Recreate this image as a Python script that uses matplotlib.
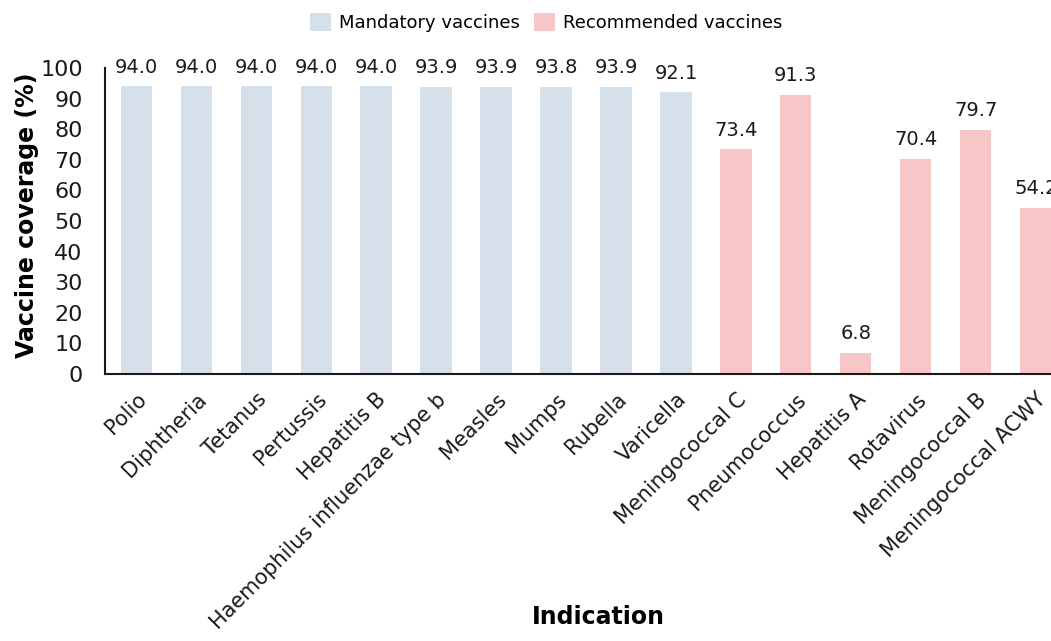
import matplotlib
matplotlib.use("Agg")
import matplotlib.pyplot as plt
from matplotlib.patches import Patch

# Vaccine coverage by indication
mandatory = ["Polio", "Diphtheria", "Tetanus", "Pertussis", "Hepatitis B",
             "Haemophilus influenzae type b", "Measles", "Mumps", "Rubella", "Varicella"]
mandatory_values = [94.0, 94.0, 94.0, 94.0, 94.0, 93.9, 93.9, 93.8, 93.9, 92.1]

recommended = ["Meningococcal C", "Pneumococcus", "Hepatitis A", "Rotavirus",
               "Meningococcal B", "Meningococcal ACWY"]
recommended_values = [73.4, 91.3, 6.8, 70.4, 79.7, 54.2]

yticks = [0, 10, 20, 30, 40, 50, 60, 70, 80, 90, 100]

blue = "#d5e0eb"
pink = "#f7c6c6"

plt.rcParams["font.family"] = ["DejaVu Sans"]

fig = plt.figure(figsize=(10.51, 6.41), dpi=100)
ax = fig.add_axes([0.0999, 0.4165, 0.9153, 0.4773])

labels = mandatory + recommended
n_m = len(mandatory)
x_m = list(range(n_m))
x_r = list(range(n_m, n_m + len(recommended)))

b1 = ax.bar(x_m, mandatory_values, width=0.52, color=blue)
b2 = ax.bar(x_r, recommended_values, width=0.52, color=pink)
for bars in (b1, b2):
    ax.bar_label(bars, labels=[f"{v:.1f}" for v in bars.datavalues],
                 padding=7, fontsize=14, color="#1a1a1a")

ax.set_xlim(-0.52, len(labels) - 0.48)
ax.set_ylim(0, 100)
ax.set_yticks(yticks)
ax.tick_params(axis="y", length=0, pad=16, labelsize=16, labelcolor="#1a1a1a")
ax.set_xticks(range(len(labels)))
ax.set_xticklabels(labels, rotation=45, ha="right", rotation_mode="anchor",
                   fontsize=15, color="#1a1a1a")
ax.tick_params(axis="x", length=0, pad=11)

for side in ("top", "right"):
    ax.spines[side].set_visible(False)
for side in ("left", "bottom"):
    ax.spines[side].set_linewidth(1.5)
    ax.spines[side].set_color("#1a1a1a")

ax.set_ylabel("Vaccine coverage (%)", fontsize=17, fontweight="bold")
ax.yaxis.set_label_coords(-0.069, 0.52)
fig.text(0.569, 0.018, "Indication", fontsize=17, fontweight="bold", ha="center", va="bottom")

handles = [Patch(facecolor=blue, edgecolor="none", label="Mandatory vaccines"),
           Patch(facecolor=pink, edgecolor="none", label="Recommended vaccines")]
fig.legend(handles=handles, loc="upper center", bbox_to_anchor=(0.5195, 1.0), ncol=2,
           frameon=False, fontsize=13, handlelength=1.15, handleheight=1.2,
           handletextpad=0.45, columnspacing=0.8, borderaxespad=0.3)

fig.savefig("out.png", dpi=100)
